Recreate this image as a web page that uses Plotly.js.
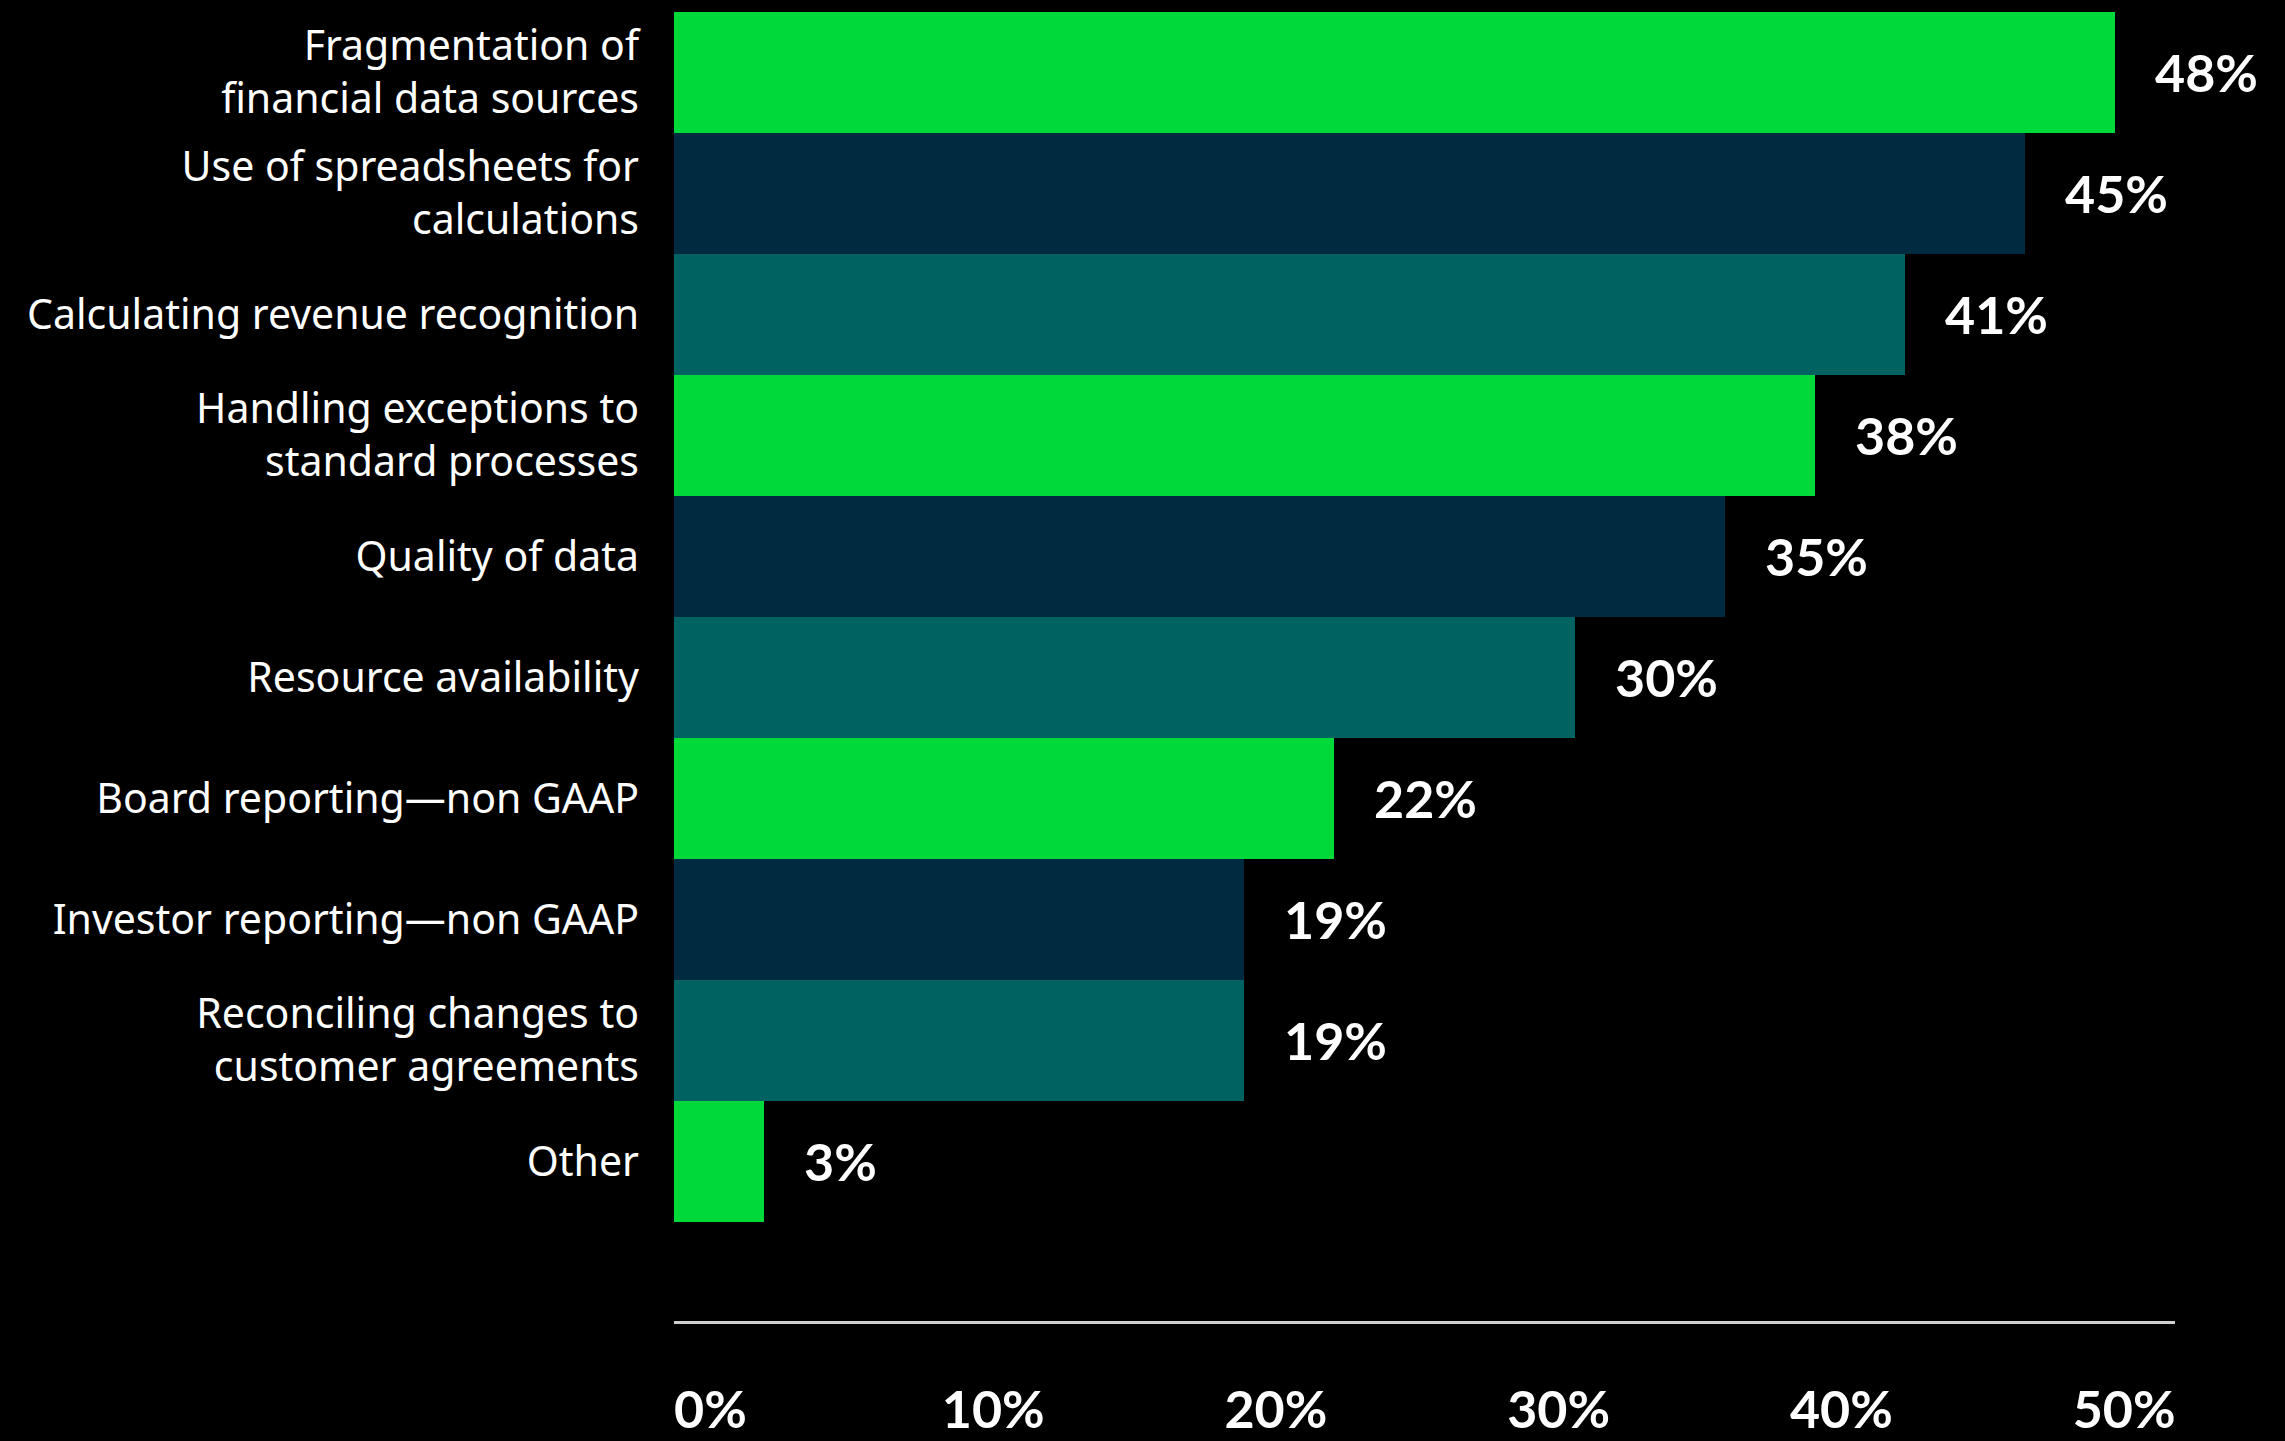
<!DOCTYPE html>
<html>
<head>
<meta charset="utf-8">
<script src="https://cdn.plot.ly/plotly-3.0.1.min.js"></script>
<style>
  html, body { margin: 0; padding: 0; background: #000; }
  #chart { width: 2285px; height: 1441px; }
</style>
</head>
<body>
<div id="chart"></div>
<script>
// ---- data ----
const categories = [
  "Fragmentation of<br>financial data sources",
  "Use of spreadsheets for<br>calculations",
  "Calculating revenue recognition",
  "Handling exceptions to<br>standard processes",
  "Quality of data",
  "Resource availability",
  "Board reporting\u2014non GAAP",
  "Investor reporting\u2014non GAAP",
  "Reconciling changes to<br>customer agreements",
  "Other"
];
const values = [48, 45, 41, 38, 35, 30, 22, 19, 19, 3];
const valueLabels = ["48%", "45%", "41%", "38%", "35%", "30%", "22%", "19%", "19%", "3%"];
const tickValues = [0, 10, 20, 30, 40, 50];
const tickLabels = ["0%", "10%", "20%", "30%", "40%", "50%"];
const palette = ["#00D93A", "#002A40", "#006361"];

// ---- chart ----
const barColors = categories.map((c, i) => palette[i % palette.length]);

const trace = {
  type: "bar",
  orientation: "h",
  y: categories,
  x: values,
  marker: { color: barColors, line: { width: 0 } },
  hoverinfo: "skip"
};

// carrier for the tick-label axis (draws nothing)
const labelCarrier = {
  type: "scatter",
  mode: "none",
  x: values,
  y: categories,
  xaxis: "x2",
  yaxis: "y",
  hoverinfo: "skip",
  showlegend: false
};

const annotations = categories.map((c, i) => ({
  xref: "x", yref: "y",
  x: values[i], y: c,
  text: valueLabels[i],
  showarrow: false,
  xanchor: "left",
  yanchor: "middle",
  xshift: 38,
  font: { family: "Lato, 'Open Sans', sans-serif", size: 52, color: "#ffffff", weight: 700 }
}));

const tickFont = { family: "Lato, 'Open Sans', sans-serif", size: 52, color: "#ffffff", weight: 700 };

const layout = {
  width: 2285,
  height: 1441,
  paper_bgcolor: "#000000",
  plot_bgcolor: "#000000",
  margin: { l: 674, r: 110, t: 12, b: 120, pad: 0 },
  bargap: 0,
  showlegend: false,
  xaxis: {
    range: [0, 50],
    tickvals: tickValues,
    showticklabels: false,
    showgrid: false,
    zeroline: false,
    showline: true,
    linecolor: "#d0d0d0",
    linewidth: 2.5,
    ticks: "",
    fixedrange: true
  },
  // label row: the reference spreads its tick labels from the left edge to the right edge of the axis
  xaxis2: {
    overlaying: "x",
    anchor: "y",
    side: "bottom",
    range: [-1.29, 51.8],
    tickvals: tickValues,
    ticktext: tickLabels,
    showgrid: false,
    zeroline: false,
    showline: false,
    ticks: "",
    ticklabelstandoff: 54,
    tickfont: tickFont,
    fixedrange: true
  },
  yaxis: {
    type: "category",
    range: [10.32, -0.5],
    showgrid: false,
    zeroline: false,
    showline: false,
    ticks: "",
    ticklabelstandoff: 34,
    tickfont: { family: "'Noto Sans', Roboto, sans-serif", size: 41, color: "#ffffff" },
    fixedrange: true
  },
  annotations: annotations
};

Plotly.newPlot("chart", [trace, labelCarrier], layout, { displayModeBar: false, staticPlot: true });
</script>
</body>
</html>
